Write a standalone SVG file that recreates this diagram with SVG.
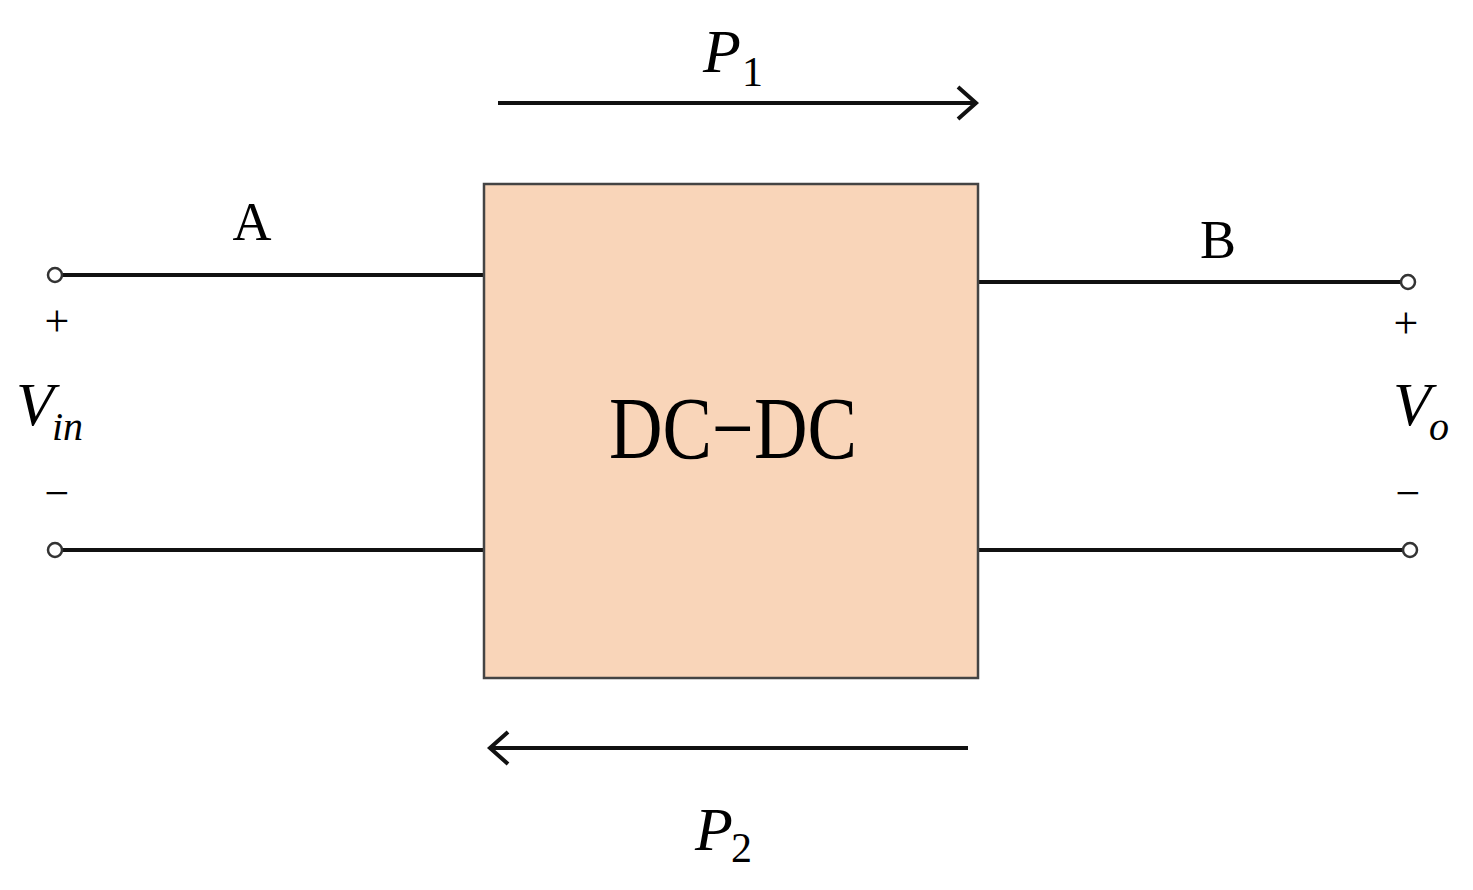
<svg xmlns="http://www.w3.org/2000/svg" width="1473" height="890" viewBox="0 0 1473 890">
<style>
.w{stroke:#111;stroke-width:4;fill:none}
.t{font-family:"Liberation Serif",serif;fill:#000}
.i{font-style:italic}
.c{fill:#fff;stroke:#333;stroke-width:2.5}
</style>
<rect width="1473" height="890" fill="#fff"/>
<g id="connectors">
<path class="w" d="M62 275H486M62 550H486M978 282H1402M978 550H1403"/>
<path class="w" d="M498 103H976M958 87L976 103L958 119"/>
<path class="w" d="M968 748H490M508 732L490 748L508 764"/>
</g>
<g id="converter">
<rect x="484" y="184" width="494" height="494" fill="#F9D5B9" stroke="#444" stroke-width="2.5"/>
<text class="t" x="733" y="458" font-size="88" text-anchor="middle" textLength="248" lengthAdjust="spacingAndGlyphs">DC−DC</text>
</g>
<g id="terminals">
<circle class="c" cx="55" cy="275" r="7"/><circle class="c" cx="55" cy="550" r="7"/>
<circle class="c" cx="1408" cy="282" r="7"/><circle class="c" cx="1410" cy="550" r="7"/>
</g>
<g id="labels">
<text class="t i" x="703" y="72" font-size="62">P</text><text class="t" x="742" y="86" font-size="42">1</text>
<text class="t i" x="695" y="850" font-size="62">P</text><text class="t" x="731" y="862" font-size="42">2</text>
<text class="t" x="252" y="240" font-size="54" text-anchor="middle">A</text>
<text class="t" x="1218" y="258" font-size="54" text-anchor="middle">B</text>
<text class="t" x="57" y="336" font-size="44" text-anchor="middle">+</text>
<text class="t" x="57" y="508" font-size="44" text-anchor="middle">−</text>
<text class="t" x="1406" y="338" font-size="44" text-anchor="middle">+</text>
<text class="t" x="1408" y="508" font-size="44" text-anchor="middle">−</text>
<text class="t i" x="16" y="425" font-size="62">V</text><text class="t i" x="52" y="440" font-size="40">in</text>
<text class="t i" x="1393" y="425" font-size="62">V</text><text class="t i" x="1429" y="440" font-size="40">o</text>
</g>
</svg>
